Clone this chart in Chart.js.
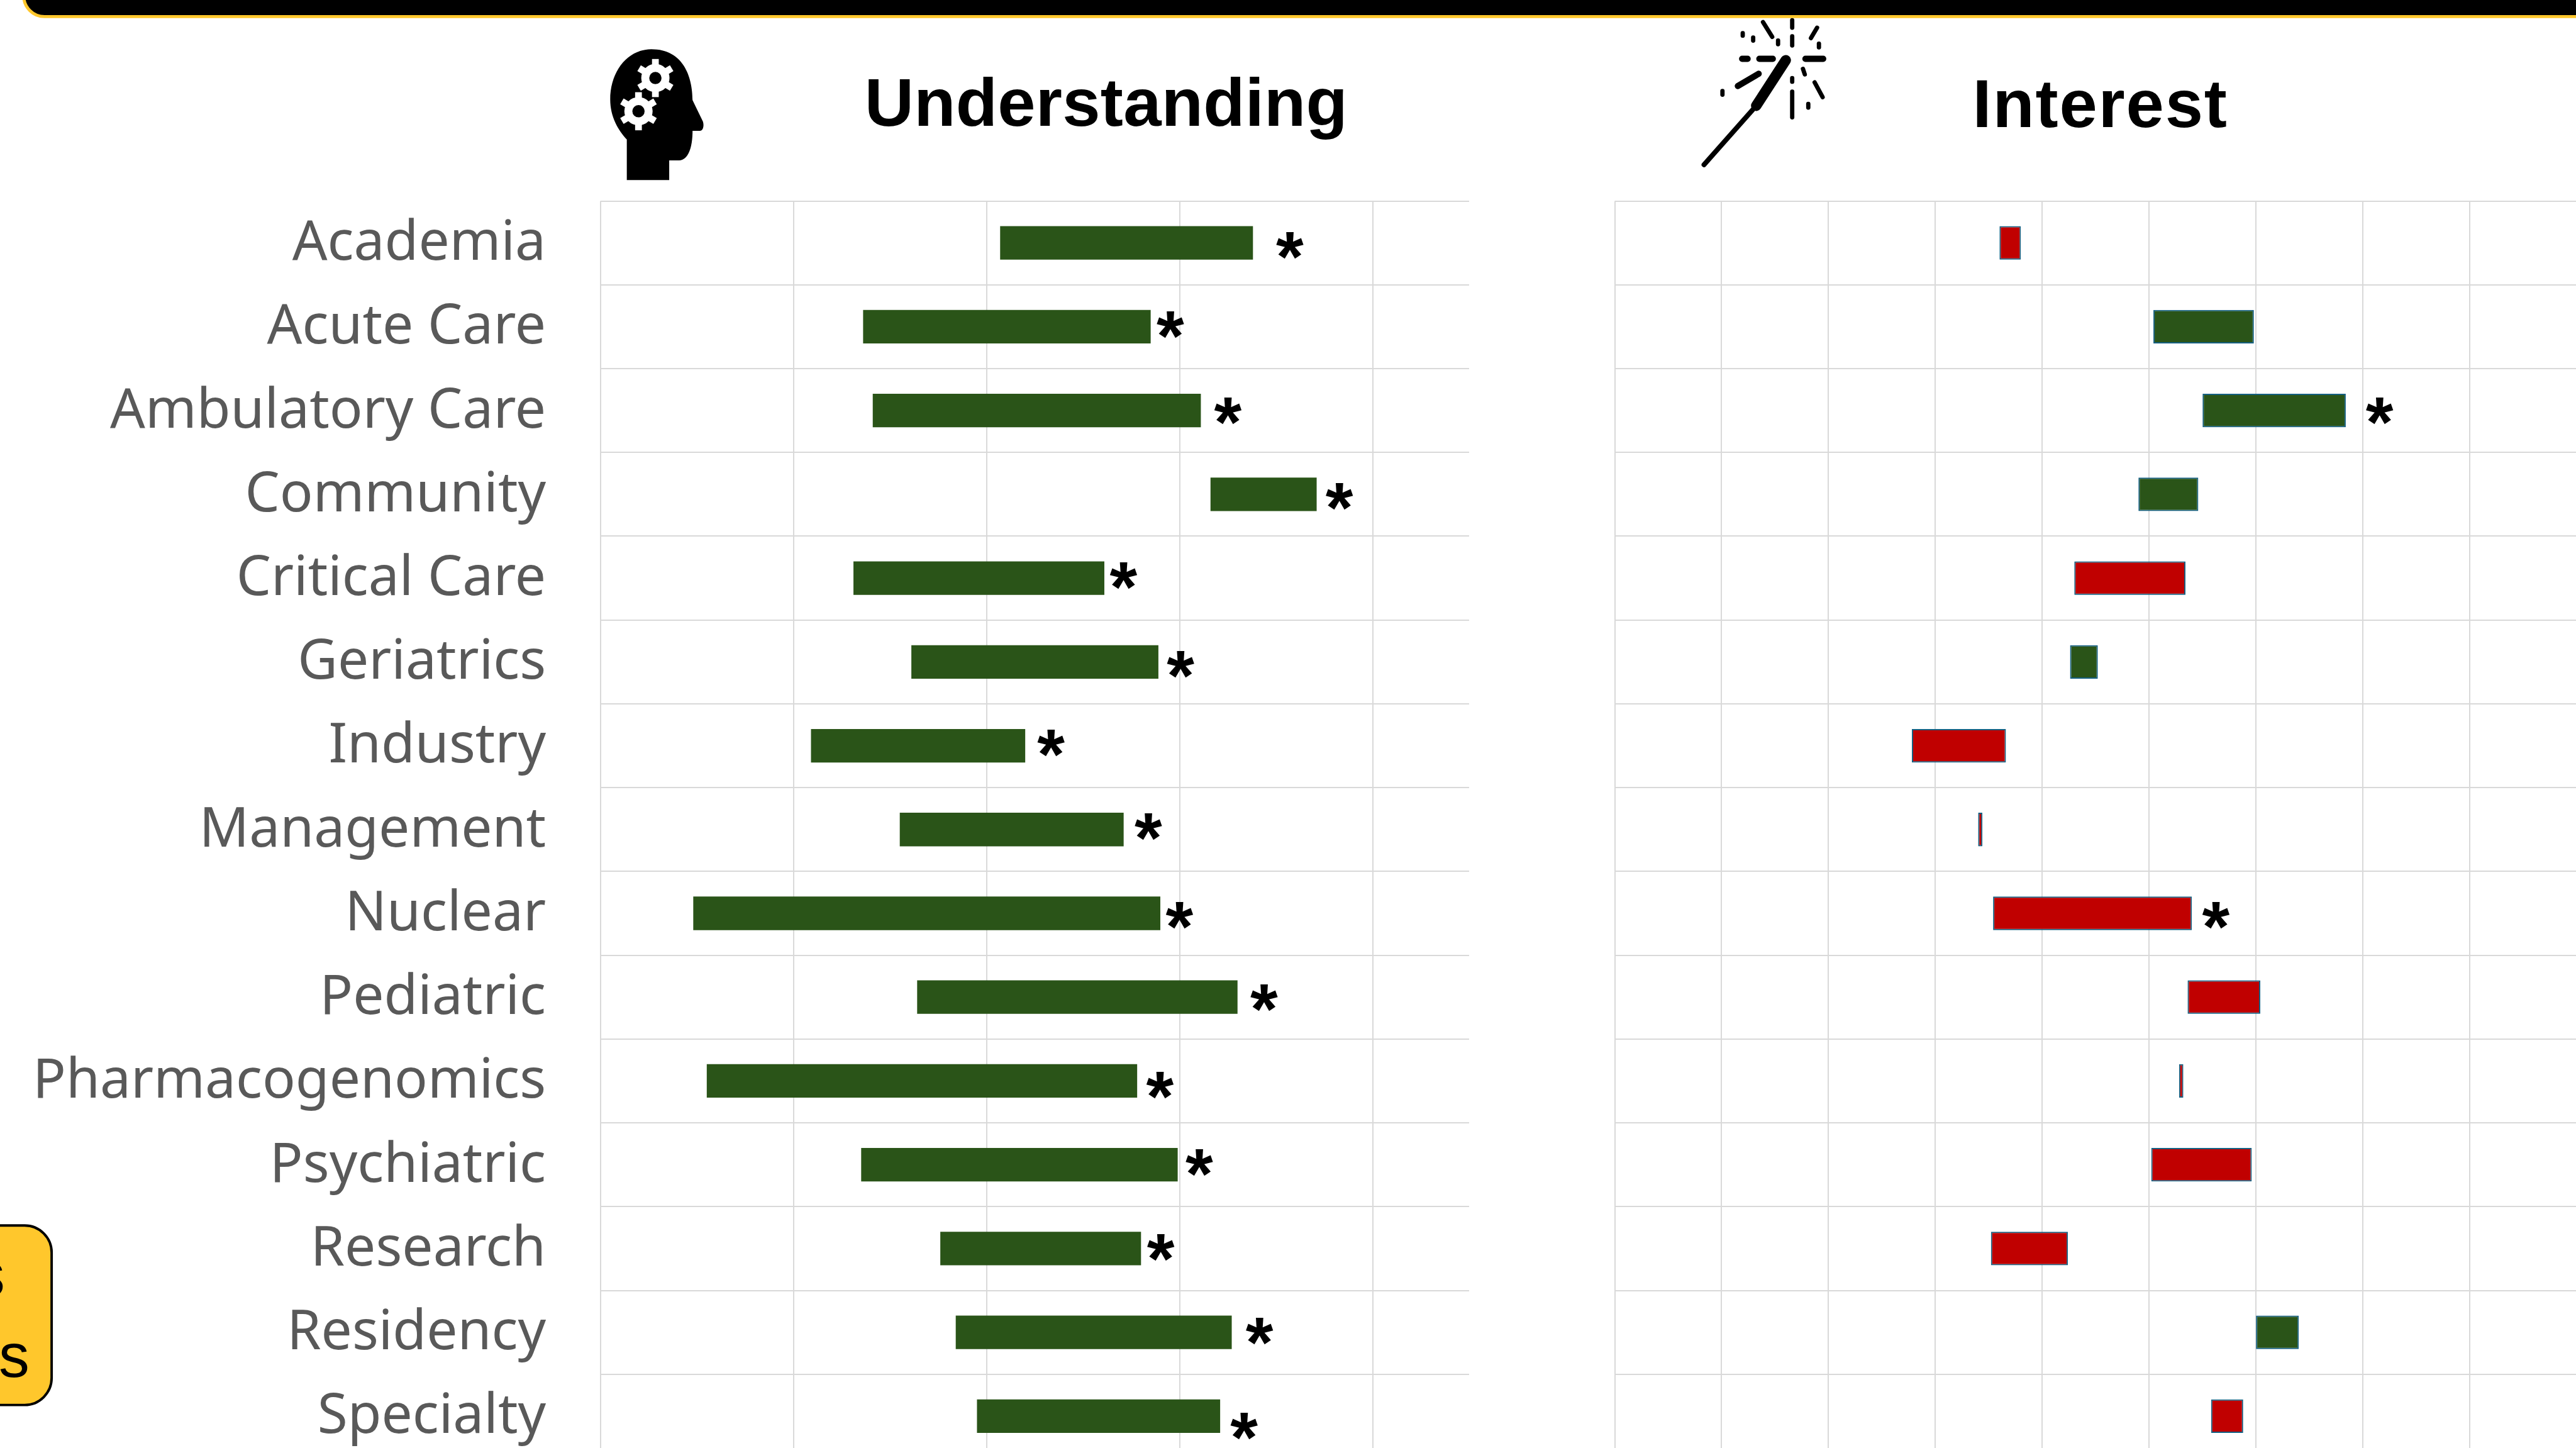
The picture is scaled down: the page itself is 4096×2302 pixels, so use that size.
<!DOCTYPE html>
<html lang="en">

<head>
    <meta charset="UTF-8">
    <title>Understanding and Interest</title>
    <script src="https://cdn.jsdelivr.net/npm/chart.js"></script>
    <style>
        html, body { margin: 0; padding: 0; background: #fff; width: 4096px; height: 2302px; overflow: hidden; }
        canvas { position: absolute; top: 0; }
        #deco { position: absolute; left: 0; top: 0; width: 4096px; height: 2302px; }
    </style>
</head>

<body>
    <canvas id="canvaUnder"></canvas>
    <canvas id="canvaInter"></canvas>

    <!-- desenhado nas coordenadas da imagem original, o viewBox faz a escala -->
    <svg id="deco" viewBox="0 0 4192 2356" xmlns="http://www.w3.org/2000/svg">
        <rect x="38.5" y="-80" width="4300" height="107" rx="34" fill="#000" stroke="#FFC72C" stroke-width="5" />

        <rect x="-200" y="1994" width="284" height="292" rx="44" fill="#FFC72C" stroke="#000" stroke-width="4" />
        <text x="8" y="2108" text-anchor="end" font-family="Liberation Sans" font-size="100" fill="#000">s</text>
        <text x="48" y="2240" text-anchor="end" font-family="Liberation Sans" font-size="100" fill="#000">s</text>

        <text x="1407" y="205" textLength="786" font-family="Liberation Sans" font-weight="bold" font-size="111" fill="#000">Understanding</text>
        <text x="3210" y="207" textLength="414" font-family="Liberation Sans" font-weight="bold" font-size="111" fill="#000">Interest</text>

        <!-- cabeca com engrenagens -->
        <path d="M1060 80 C1022 80 993 115 993 162 C993 190 1006 212 1020 227 L1020 293 L1089 293 L1089 261 L1105 261 C1120 261 1127 240 1127 213 L1139 213 C1144 213 1146 205 1144 198 L1127 163 C1127 125 1112 80 1060 80 Z" fill="#000" />
        <g fill="#fff">
            <circle cx="1066.5" cy="127" r="23" />
            <g stroke="#fff" stroke-width="11" stroke-linecap="butt">
                <line x1="1066.5" y1="96" x2="1066.5" y2="158" />
                <line x1="1040" y1="111" x2="1093" y2="143" />
                <line x1="1040" y1="143" x2="1093" y2="111" />
            </g>
            <circle cx="1066.5" cy="127" r="10" fill="#000" />
        </g>
        <g fill="#fff">
            <circle cx="1039" cy="181" r="23" />
            <g stroke="#fff" stroke-width="11" stroke-linecap="butt">
                <line x1="1039" y1="150" x2="1039" y2="212" />
                <line x1="1012" y1="165" x2="1066" y2="197" />
                <line x1="1012" y1="197" x2="1066" y2="165" />
            </g>
            <circle cx="1039" cy="181" r="10" fill="#000" />
        </g>

        <!-- varinha com faiscas -->
        <g stroke="#000" stroke-linecap="round" fill="none">
            <line x1="2773" y1="268" x2="2858" y2="172" stroke-width="8" />
            <line x1="2858" y1="172" x2="2906" y2="98" stroke-width="17" />
            <g stroke-width="7">
                <line x1="2916.5" y1="33" x2="2916.5" y2="45" />
                <line x1="2869" y1="36" x2="2884" y2="60" />
                <line x1="2957" y1="45" x2="2947" y2="62" />
                <line x1="2916.5" y1="59" x2="2916.5" y2="74" />
                <line x1="2836" y1="54" x2="2836" y2="58" />
                <line x1="2853" y1="61" x2="2853" y2="66" />
                <line x1="2893.5" y1="66" x2="2893.5" y2="72" />
                <line x1="2960" y1="71" x2="2960" y2="77" />
                <line x1="2934" y1="112" x2="2937" y2="121" />
                <line x1="2916.5" y1="127" x2="2916.5" y2="133" />
                <line x1="2953" y1="134" x2="2966" y2="158" />
                <line x1="2916.5" y1="149" x2="2916.5" y2="191" />
                <line x1="2803" y1="148" x2="2803" y2="154" />
                <line x1="2942.7" y1="169" x2="2942.7" y2="175" />
            </g>
            <g stroke-width="10">
                <line x1="2835" y1="95.7" x2="2844" y2="95.7" />
                <line x1="2863" y1="95.7" x2="2885" y2="95.7" />
                <line x1="2938" y1="95.7" x2="2967" y2="95.7" />
                <line x1="2862" y1="120" x2="2828" y2="140" />
            </g>
        </g>
    </svg>

    <script>
        const ESCALA = 4096 / 4192;

        const categorias = ["Academia", "Acute Care", "Ambulatory Care", "Community", "Critical Care", "Geriatrics",
            "Industry", "Management", "Nuclear", "Pediatric", "Pharmacogenomics", "Psychiatric", "Research",
            "Residency", "Specialty"];

        // Valores: antes e depois
        const entendimentoAntes = [3.07, 2.36, 2.41, 4.16, 2.31, 2.61, 2.09, 2.55, 1.48, 2.64, 1.55, 2.35, 2.76, 2.84, 2.95];
        const entendimentoDepois = [4.38, 3.85, 4.11, 4.71, 3.61, 3.89, 3.20, 3.71, 3.90, 4.30, 3.78, 3.99, 3.80, 4.27, 4.21];
        const interesseAntes = [2.90, 3.52, 3.75, 3.45, 3.67, 3.13, 2.83, 2.72, 3.70, 4.02, 3.66, 3.98, 3.12, 4.00, 3.94];
        const interesseDepois = [2.80, 3.99, 4.42, 3.73, 3.15, 3.26, 2.39, 2.70, 2.77, 3.68, 3.64, 3.51, 2.76, 4.20, 3.79];

        // Linhas com diferenca significativa (asterisco)
        const entendimentoSignif = categorias.map(function () { return true; });
        const interesseSignif = [false, false, true, false, false, false, false, false, true, false, false, false, false, false, false];

        // Ajuste manual dos asteriscos, em px da imagem original
        const folgaEntend = [60, 32, 44, 37, 31, 36, 42, 40, 31, 43, 37, 35, 32, 45, 39];
        const subidaEntend = [4, -3, 1, 4, -4, 4, -4, -4, 4, 1, 7, -3, -1, -2, 17];
        const folgaInter = [0, 0, 55, 0, 0, 0, 0, 0, 39, 0, 0, 0, 0, 0, 0];
        const subidaInter = [0, 0, 1, 0, 0, 0, 0, 0, 4, 0, 0, 0, 0, 0, 0];

        const VERDE = "#2A5418";
        const VERMELHO = "#C00000";
        const GRADE = "#D9D9D9";

        function pares(antes, depois) {
            return antes.map(function (v, i) { return [v, depois[i]]; });
        }

        function corBarra(antes, depois) {
            return function (ctx) {
                return depois[ctx.dataIndex] >= antes[ctx.dataIndex] ? VERDE : VERMELHO;
            };
        }

        function pluginAsterisco(depoisOuMaior, signif, folga, subida) {
            return {
                id: "asterisco",
                afterDatasetsDraw: function (chart) {
                    const ctx = chart.ctx;
                    ctx.save();
                    ctx.font = "bold " + (115 * ESCALA) + "px 'Liberation Sans'";
                    ctx.fillStyle = "#000";
                    ctx.textAlign = "center";
                    ctx.textBaseline = "alphabetic";
                    const m = ctx.measureText("*");
                    const meio = (m.actualBoundingBoxAscent - m.actualBoundingBoxDescent) / 2;
                    signif.forEach(function (tem, i) {
                        if (!tem) return;
                        const x = chart.scales.x.getPixelForValue(depoisOuMaior[i]) + folga[i] * ESCALA;
                        const y = chart.scales.y.getPixelForValue(i) + subida[i] * ESCALA;
                        ctx.fillText("*", x, y + meio);
                    });
                    ctx.restore();
                },
            };
        }

        function plotar(id, cfg) {
            const canvas = document.getElementById(id);
            canvas.width = cfg.largura;
            canvas.height = 2373 * ESCALA;
            canvas.style.left = cfg.esquerda + "px";

            new Chart(canvas, {
                type: "bar",
                data: {
                    labels: categorias,
                    datasets: [{
                        data: pares(cfg.antes, cfg.depois),
                        backgroundColor: corBarra(cfg.antes, cfg.depois),
                        borderColor: "#156082",
                        borderWidth: cfg.borda,
                        borderSkipped: false,
                        barPercentage: 0.4,
                        categoryPercentage: 1,
                    }],
                },
                options: {
                    indexAxis: "y",
                    responsive: false,
                    animation: false,
                    layout: { padding: { top: 327 * ESCALA, left: cfg.margem, right: 0, bottom: 0 } },
                    plugins: { legend: { display: false }, tooltip: { enabled: false } },
                    scales: {
                        x: {
                            min: 1,
                            max: 5.5,
                            ticks: { display: false, stepSize: cfg.passo },
                            afterBuildTicks: function (eixo) {
                                eixo.ticks = eixo.ticks.filter(function (t) { return t.value < 5.5 || cfg.passo === 0.5; });
                            },
                            afterFit: function (eixo) { eixo.height = 0; },
                            border: { display: false },
                            grid: { color: GRADE, lineWidth: 2, drawTicks: false },
                        },
                        y: {
                            afterFit: function (eixo) {
                                eixo.width = cfg.comRotulos ? 977.4 * ESCALA : 0;
                                eixo.paddingTop = 0;
                                eixo.paddingBottom = 0;
                            },
                            border: { display: false },
                            grid: { color: GRADE, lineWidth: 2, drawTicks: false },
                            ticks: {
                                display: cfg.comRotulos,
                                autoSkip: false,
                                color: "#595959",
                                padding: 89 * ESCALA,
                                labelOffset: 2,
                                font: { family: "'Noto Sans'", size: 89.5 * ESCALA },
                            },
                        },
                    },
                },
                plugins: [pluginAsterisco(cfg.fim, cfg.signif, cfg.folga, cfg.subida)],
            });
        }

        function maiores(a, b) {
            return a.map(function (v, i) { return Math.max(v, b[i]); });
        }

        plotar("canvaUnder", {
            esquerda: 0,
            largura: 2391 * ESCALA,
            margem: 0,
            passo: 1,
            borda: 0,
            comRotulos: true,
            antes: entendimentoAntes,
            depois: entendimentoDepois,
            fim: maiores(entendimentoAntes, entendimentoDepois),
            signif: entendimentoSignif,
            folga: folgaEntend,
            subida: subidaEntend,
        });

        plotar("canvaInter", {
            esquerda: 2600 * ESCALA,
            largura: 4192 * ESCALA - 2600 * ESCALA + 2,
            margem: 28.2 * ESCALA,
            passo: 0.5,
            borda: 2,
            comRotulos: false,
            antes: interesseAntes,
            depois: interesseDepois,
            fim: maiores(interesseAntes, interesseDepois),
            signif: interesseSignif,
            folga: folgaInter,
            subida: subidaInter,
        });
    </script>
</body>

</html>
